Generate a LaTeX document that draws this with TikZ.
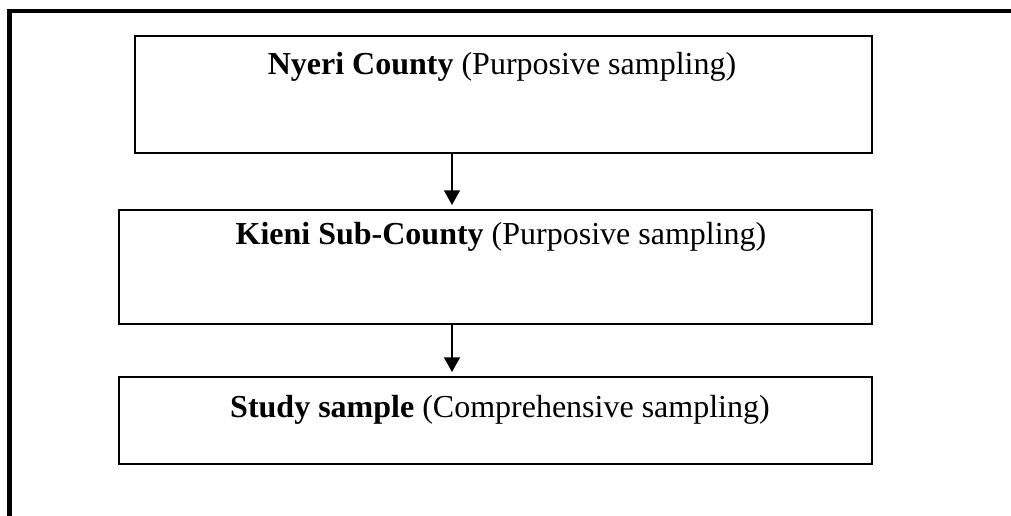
\documentclass[tikz,border=0pt]{standalone}
\usepackage{fontspec}
\setmainfont{Liberation Serif}
\usetikzlibrary{arrows.meta}
\begin{document}
\begin{tikzpicture}[x=0.75pt,y=-0.75pt,
  stagebox/.style={draw=black, line width=1.5pt, rectangle, inner sep=0pt, anchor=north west},
  steplabel/.style={font=\fontsize{24}{29}\selectfont, anchor=base, inner sep=0pt},
  flow/.style={-{Triangle[width=12pt,length=11pt]}, line width=1.1pt, shorten >=3pt},
  outerframe/.style={line width=3.5pt, line cap=rect}]
\useasboundingbox (0,0) rectangle (1011,516);

% open frame: left side and top only
\coordinate (fb) at (9.5,520);
\coordinate (fc) at (9.5,11);
\coordinate (fr) at (1015,11);
\draw[outerframe] (fb) -- (fc) -- (fr);

% sampling stages
\node[stagebox, minimum width=552.75pt, minimum height=87.75pt] (b1) at (134,35) {};
\node[stagebox, minimum width=564.75pt, minimum height=85.5pt] (b2) at (118,209) {};
\node[stagebox, minimum width=564.75pt, minimum height=65.25pt] (b3) at (118,376) {};

\node[steplabel] (t1) at (502,75) {\textbf{Nyeri County} (Purposive sampling)};
\node[steplabel] (t2) at (501,245) {\textbf{Kieni Sub-County} (Purposive sampling)};
\node[steplabel] (t3) at (500,418) {\textbf{Study sample} (Comprehensive sampling)};

% connectors
\coordinate (ax) at (452,0);
\draw[flow] (b1.south -| ax) -- (b2.north -| ax);
\draw[flow] (b2.south -| ax) -- (b3.north -| ax);
\end{tikzpicture}
\end{document}
